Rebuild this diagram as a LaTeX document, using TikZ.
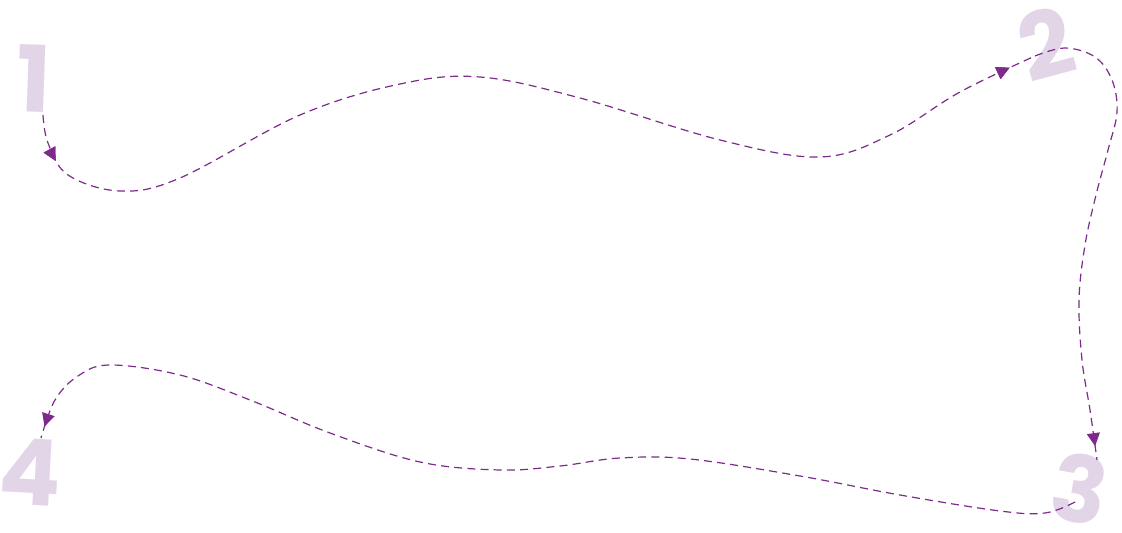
\documentclass[tikz,border=0pt]{standalone}
\usepackage{fontspec}
\newfontfamily\digitfont{Poppins}
\usetikzlibrary{arrows.meta,decorations.markings}
\definecolor{lilac}{HTML}{E3D5E8}
\definecolor{plum}{HTML}{7D2A8C}

\begin{document}
\begin{tikzpicture}[x=0.5pt,y=-0.5pt]
      \tikzstyle{digit}=[text=lilac, inner sep=0pt,
        font=\digitfont\bfseries\fontsize{46}{46}\selectfont]
      \tikzstyle{route}=[plum, line width=0.6pt, dash pattern=on 4pt off 2.6pt]
      \tikzstyle{tip at}=[postaction={decorate}, decoration={markings,
        mark=at position #1 with {\arrow{Triangle[length=6.5pt,width=6.5pt]}}}]
      \useasboundingbox (0,0) rectangle (1122,533);

      % step numbers
      \path (34,79) node[digit, rotate=-2] (d1) {1};
      \path (1046,44) node[digit, rotate=15] (d2) {2};
      \path (1080,489) node[digit, rotate=-10] (d3) {3};
      \path (30,472) node[digit, rotate=-3] (d4) {4};

      % ends of the route
      \coordinate (c1) at (43,115);
      \coordinate (c2) at (1035,56);
      \coordinate (c3) at (1097,460);
      \coordinate (c3b) at (1075,502);
      \coordinate (c4) at (41,438);

      \draw [route, tip at=24pt, tip at=-14pt]
        plot[smooth, tension=0.6] coordinates {(c1) (48,143) (68,175) (120,191)
          (180,178) (300,115) (400,84) (480,77) (580,98) (720,140) (820,157)
          (890,135) (960,92) (c2)};
      \draw [route, tip at=-7pt]
        plot[smooth, tension=0.6] coordinates {(c2) (1065,48) (1095,57) (1112,80)
          (1117,112) (1108,150) (1096,195) (1085,245) (1079,300) (1082,360)
          (1090,410) (c3)};
      \draw [route, tip at=-6pt]
        plot[smooth, tension=0.6] coordinates {(c3b) (1045,513) (1000,511)
          (900,495) (800,476) (690,459) (620,458) (560,466) (500,470) (420,462)
          (330,433) (250,400) (180,375) (110,365) (78,376) (55,400) (c4)};
    \end{tikzpicture}
\end{document}
